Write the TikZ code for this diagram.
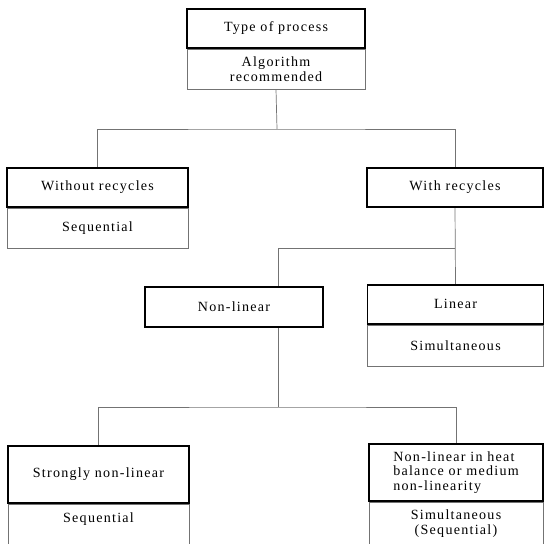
\documentclass[tikz,border=0pt]{standalone}
\usepackage{fontspec}
\setmainfont{Liberation Serif}[LetterSpace=9]
\usetikzlibrary{positioning,backgrounds}

\begin{document}
\begin{tikzpicture}[x=0.03cm, y=-0.03cm,
    head/.style={rectangle, draw=black, line width=1.3pt, fill=white, inner sep=2pt,
                 align=center, font=\fontsize{12}{12.5}\selectfont},
    algo/.style={rectangle, draw=black!55, line width=0.6pt, fill=white, inner sep=2pt,
                 align=center, font=\fontsize{12}{12.5}\selectfont},
    link/.style={draw=black!55, line width=0.6pt}
]
    \clip (0,0) rectangle (545,543);
    \node[algo, minimum width=5.34cm, minimum height=1.2cm] (procA) at (276,69) {Algorithm\\recommended};
    \node[head, minimum width=5.34cm, minimum height=1.17cm, above=0pt of procA] (proc) {Type of process};
    \node[algo, minimum width=5.43cm, minimum height=1.2cm] (woA) at (97.5,228) {Sequential};
    \node[head, minimum width=5.43cm, minimum height=1.17cm, above=0pt of woA] (wo) {Without recycles};
    \node[head, minimum width=5.28cm, minimum height=1.17cm] (wr) at (455,187.5) {With recycles};
    \node[head, minimum width=5.34cm, minimum height=1.2cm] (nl) at (234,307) {Non-linear};
    \node[algo, minimum width=5.28cm, minimum height=1.23cm] (liA) at (455.5,345.5) {Simultaneous};
    \node[head, minimum width=5.28cm, minimum height=1.17cm, above=0pt of liA] (li) {Linear};
    \node[algo, minimum width=5.43cm, minimum height=1.3cm, text depth=0.5cm] (snA) at (98.5,525.7) {Sequential};
    \node[head, minimum width=5.43cm, minimum height=1.71cm, above=0pt of snA] (sn) {Strongly non-linear};
    \node[algo, minimum width=5.22cm, minimum height=1.3cm] (nhA) at (456,523.7) {Simultaneous\\(Sequential)};
    \node[head, minimum width=5.22cm, minimum height=1.71cm, above=0pt of nhA, align=left] (nh)
        {Non-linear in heat\\balance or medium\\non-linearity};

    \coordinate (j1) at (277,129);
    \coordinate (j2) at (278,248);
    \coordinate (j3) at (278,407);
    \begin{scope}[on background layer]
        \draw[link] (procA.south) -- (j1);
        \draw[link] (wo.north) |- (j1) -| (wr.north);
        \draw[link] (wr.south) -- (li.north);
        \draw[link] (j2) -- (j2 -| wr.south);
        \draw[link] (j2) -- (j3);
        \draw[link] (sn.north) |- (j3) -| (nh.north);
    \end{scope}
\end{tikzpicture}
\end{document}
